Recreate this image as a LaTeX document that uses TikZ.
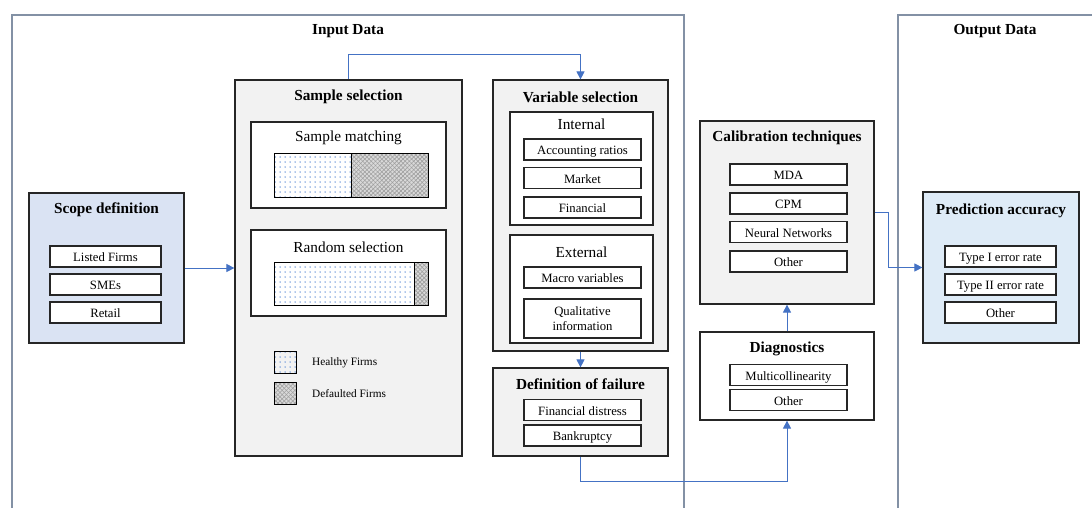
\documentclass[tikz,border=0pt]{standalone}
\usepackage{fontspec}
\setmainfont{Liberation Serif}
\usetikzlibrary{arrows.meta,patterns.meta}
\definecolor{frm}{HTML}{8391A5}
\definecolor{conn}{HTML}{4472C4}
\definecolor{dotc}{HTML}{5B8BD6}
\definecolor{lblue}{HTML}{DAE3F3}
\definecolor{lblue2}{HTML}{DEEBF7}
\definecolor{lgray}{HTML}{F2F2F2}
\tikzset{
  frame/.style={draw=frm, line width=1.2pt, inner sep=0},
  bigbox/.style={draw=black!85, line width=1.2pt, inner sep=0},
  subboxbase/.style={draw=black!85, line width=1.1pt, fill=white, inner sep=0, minimum width=117pt, minimum height=21pt, font=\fontsize{12.7}{15}\selectfont, align=center},
  subbox/.style={subboxbase, text height=11pt, text depth=1pt},
  ttl/.style={font=\fontsize{15.3}{18}\selectfont\bfseries, inner sep=0},
  hdr/.style={font=\fontsize{15.3}{18}\selectfont, inner sep=0},
  leg/.style={font=\fontsize{11.3}{13}\selectfont, inner sep=0, anchor=west},
  arr/.style={draw=conn, line width=0.9pt, -{Triangle[length=8pt,width=8pt]}},
  healthy/.style={draw=black, line width=1pt, pattern={Dots[distance=5pt,radius=0.75pt]}, pattern color=dotc},
}
\newcommand{\defaulted}[4]{%
  \fill[gray!30] (#1,#2) rectangle (#3,#4);
  \fill[pattern={Lines[angle=45,distance=3pt,line width=0.6pt]}, pattern color=gray!75] (#1,#2) rectangle (#3,#4);
  \fill[pattern={Lines[angle=-45,distance=3pt,line width=0.6pt]}, pattern color=gray!75] (#1,#2) rectangle (#3,#4);
  \draw[black, line width=1pt] (#1,#2) rectangle (#3,#4);}
\begin{document}
\begin{tikzpicture}[x=1pt,y=-1pt]
\useasboundingbox (0,0) rectangle (1092,507);
\clip (0,0) rectangle (1092,507);
\fill[white] (0,0) rectangle (1092,507);

% frames
\node[frame, minimum width=672pt, minimum height=530pt] (inframe) at (348,280) {};
\node[frame, minimum width=230pt, minimum height=530pt] (outframe) at (1013,280) {};
\node[ttl] (intitle) at (348,31) {Input Data};
\node[ttl] (outtitle) at (995,31) {Output Data};

% scope definition
\node[bigbox, fill=lblue, minimum width=155pt, minimum height=150pt] (scope) at (106.5,268) {};
\node[ttl] (scopet) at (106.5,210) {Scope definition};
\node[subbox, minimum width=111pt] (s1) at (105.5,256.5) {Listed Firms};
\node[subbox, minimum width=111pt] (s2) at (105.5,284.5) {SMEs};
\node[subbox, minimum width=111pt] (s3) at (105.5,312.5) {Retail};

% sample selection
\node[bigbox, fill=lgray, minimum width=227pt, minimum height=376pt] (sample) at (348.5,268) {};
\node[ttl] (samplet) at (348.5,97) {Sample selection};
\node[bigbox, fill=white, minimum width=195pt, minimum height=86pt] (match) at (348.5,165) {};
\node[hdr] (matcht) at (348.5,138) {Sample matching};
\node[bigbox, fill=white, minimum width=195pt, minimum height=86pt] (random) at (348.5,273) {};
\node[hdr] (randomt) at (348.5,247) {Random selection};
\path[healthy] (274,153) rectangle (351,197);
\defaulted{351}{153}{428}{197}
\path[healthy] (274,262) rectangle (414,305);
\defaulted{414}{262}{428}{305}
\path[healthy] (274,351) rectangle (296,373);
\defaulted{274}{382}{296}{404}
\node[leg] (lh) at (312,363) {Healthy Firms};
\node[leg] (ld) at (312,394) {Defaulted Firms};

% variable selection
\node[bigbox, fill=lgray, minimum width=175pt, minimum height=271pt] (varsel) at (580.5,215.5) {};
\node[ttl] (varselt) at (580.5,97) {Variable selection};
\node[bigbox, fill=white, minimum width=143pt, minimum height=113pt] (internal) at (581.5,168.5) {};
\node[hdr] (internalt) at (581.5,124) {Internal};
\node[subbox] (v1) at (582.5,149.5) {Accounting ratios};
\node[subbox] (v2) at (582.5,178) {Market};
\node[subbox] (v3) at (582.5,207.5) {Financial};
\node[bigbox, fill=white, minimum width=143pt, minimum height=108pt] (external) at (581.5,289) {};
\node[hdr] (externalt) at (581.5,252) {External};
\node[subbox] (v4) at (582.5,277.5) {Macro variables};
\node[subboxbase, minimum height=39pt] (v5) at (582.5,318.5) {Qualitative\\information};

% definition of failure
\node[bigbox, fill=lgray, minimum width=175pt, minimum height=88pt] (failure) at (580.5,412) {};
\node[ttl] (failuret) at (580.5,384) {Definition of failure};
\node[subbox] (f1) at (582.5,410) {Financial distress};
\node[subbox] (f2) at (582.5,435.5) {Bankruptcy};

% calibration techniques
\node[bigbox, fill=lgray, minimum width=174pt, minimum height=183pt] (calib) at (787,212.5) {};
\node[ttl] (calibt) at (787,138) {Calibration techniques};
\node[subbox] (c1) at (788.5,174.5) {MDA};
\node[subbox] (c2) at (788.5,203.5) {CPM};
\node[subbox] (c3) at (788.5,232) {Neural Networks};
\node[subbox] (c4) at (788.5,261.5) {Other};

% diagnostics
\node[bigbox, fill=white, minimum width=174pt, minimum height=88pt] (diag) at (787,376) {};
\node[ttl] (diagt) at (787,349) {Diagnostics};
\node[subbox] (d1) at (788.5,375) {Multicollinearity};
\node[subbox] (d2) at (788.5,400) {Other};

% prediction accuracy
\node[bigbox, fill=lblue2, minimum width=156pt, minimum height=151pt] (pred) at (1001,267.5) {};
\node[ttl] (predt) at (1001,211) {Prediction accuracy};
\node[subbox, minimum width=111pt] (p1) at (1000.5,256.5) {Type I error rate};
\node[subbox, minimum width=111pt] (p2) at (1000.5,284.5) {Type II error rate};
\node[subbox, minimum width=111pt] (p3) at (1000.5,312.5) {Other};

% connectors
\draw[arr] (scope.east) -- (sample.west);
\draw[arr] (sample.north) -- ++(0,-25) -| (varsel.north);
\draw[arr] (varsel.south) -- (failure.north);
\draw[arr] (failure.south) -- ++(0,25) -| (diag.south);
\draw[arr] (diag.north) -- (calib.south);
\draw[arr] (calib.east) -- ++(14,0) |- (pred.west);
\end{tikzpicture}
\end{document}
